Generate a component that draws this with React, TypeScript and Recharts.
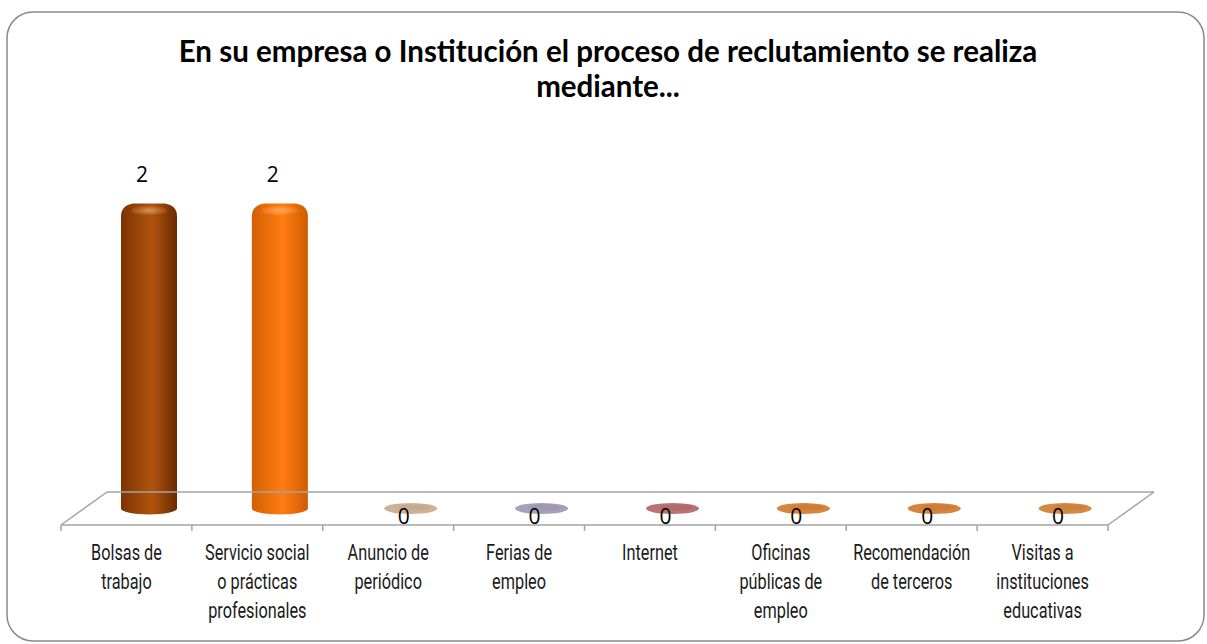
import React from 'react';
import { BarChart, Bar, XAxis, YAxis, LabelList } from 'recharts';

const categories = [
  'Bolsas de\ntrabajo',
  'Servicio social\no prácticas\nprofesionales',
  'Anuncio de\nperiódico',
  'Ferias de\nempleo',
  'Internet',
  'Oficinas\npúblicas de\nempleo',
  'Recomendación\nde terceros',
  'Visitas a\ninstituciones\neducativas',
];
const values = [2, 2, 0, 0, 0, 0, 0, 0];
// [edge, light, far edge] for each cylinder
const barColors = [
  ['#7c3300', '#b0540e', '#692a00'],
  ['#d35f04', '#ff7d12', '#cf5c02'],
  ['#bfa088', '#cfb19a', '#b0907a'],
  ['#9890a8', '#a8a0b8', '#8a8299'],
  ['#a86060', '#b87474', '#985555'],
  ['#c8742e', '#d6853e', '#b86828'],
  ['#c8742e', '#d6853e', '#b86828'],
  ['#c47a34', '#d48a44', '#b46c2a'],
];

const title = ['En su empresa o Institución el proceso de reclutamiento se realiza', 'mediante...'];

const data = categories.map((name, i) => ({ name, value: values[i], idx: i }));

// floor depth offset (Excel 3D look)
const DX = 46;
const DY = -33;
const FLOOR = '#a3a3a3';

const Cylinder = (props: any) => {
  const { x, y, width, height, payload } = props;
  const i = payload.idx;
  const cx = x + width / 2 + DX / 2;
  const rx = width / 2;
  const bottom = y + height + DY / 2;
  const top = y + DY / 2;
  const ry = 6;
  if (height < 1) {
    return (
      <g>
        <ellipse cx={cx} cy={bottom} rx={rx * 0.95} ry={5.5} fill={barColors[i][1]} />
        <ellipse cx={cx + 4} cy={bottom - 1} rx={rx * 0.6} ry={3} fill={barColors[i][0]} opacity={0.5} />
      </g>
    );
  }
  const l = cx - rx;
  const r = cx + rx;
  const d = `M${l},${bottom} L${l},${top + 9} Q${l},${top - 2} ${cx - rx + 12},${top - 4} L${r - 12},${top - 4} Q${r},${top - 2} ${r},${top + 9} L${r},${bottom} A${rx},${ry} 0 0 1 ${l},${bottom} Z`;
  return (
    <g>
      <path d={d} fill={`url(#cyl${i})`} />
      <ellipse cx={cx} cy={top + 3} rx={rx - 10} ry={5} fill={`url(#cap${i})`} opacity={0.5} />
    </g>
  );
};

const ValueLabel = (props: any) => {
  const { x, y, width, height, value } = props;
  const cx = x + width / 2 + DX / 2 - 7;
  const ty = height > 0 ? y + DY / 2 - 33 : y + DY / 2 + 8;
  return (
    <text x={cx} y={ty} dy="0.35em" textAnchor="middle" fontSize={21} fontFamily="'Open Sans', Lato, sans-serif" fill="#000">
      {value}
    </text>
  );
};

const FloorTick = (props: any) => {
  const { x, y, payload, index, visibleTicksCount, width } = props;
  const half = payload && payload.offset ? payload.offset : width / visibleTicksCount / 2;
  const bw = half * 2;
  const left = x - half;
  const n = visibleTicksCount;
  const lines = String(payload.value).split('\n');
  return (
    <g>
      {index === 0 && (
        <g stroke={FLOOR} strokeWidth={1.5} fill="none">
          <line x1={left} y1={y} x2={left + DX} y2={y + DY} />
          <line x1={left + DX} y1={y + DY} x2={left + n * bw + DX} y2={y + DY} />
          <line x1={left + n * bw} y1={y} x2={left + n * bw + DX} y2={y + DY} />
          <line x1={left} y1={y} x2={left + n * bw} y2={y} />
        </g>
      )}
      <line x1={left} y1={y} x2={left} y2={y + 6} stroke={FLOOR} strokeWidth={1.5} />
      {index === n - 1 && <line x1={left + bw} y1={y} x2={left + bw} y2={y + 6} stroke={FLOOR} strokeWidth={1.5} />}
      <g transform={`translate(${x},0) scale(0.74,1)`}>
        <text textAnchor="middle" fontSize={22} fontFamily="Roboto, sans-serif" fill="#1a1a1a">
          {lines.map((t, k) => (
            <tspan key={k} x={0} y={y + 27 + k * 29} dy="0.35em">
              {t}
            </tspan>
          ))}
        </text>
      </g>
    </g>
  );
};

export default function App() {
  return (
    <div style={{ position: 'absolute', left: 0, top: 0, width: 1207, height: 644, background: '#fff' }}>
      <svg width={1207} height={644} style={{ position: 'absolute', left: 0, top: 0 }}>
        <rect x={7} y={12} width={1197} height={629} rx={26} ry={26} fill="#fff" stroke="#8a8a8a" strokeWidth={1.5} />
        {title.map((t, k) => (
          <text
            key={k}
            x={608}
            y={62 + k * 35}
            textAnchor="middle"
            fontSize={29.5}
            fontWeight="bold"
            fontFamily="Lato, 'Open Sans', sans-serif"
            fill="#000"
          >
            {t}
          </text>
        ))}
      </svg>
      <div style={{ position: 'absolute', left: 0, top: 0 }}>
        <BarChart
          width={1207}
          height={644}
          data={data}
          margin={{ top: 224, right: 99, bottom: 29, left: 61 }}
          barSize={56}
        >
          <defs>
            {barColors.map((c, i) => (
              <linearGradient key={`g${i}`} id={`cyl${i}`} x1="0" y1="0" x2="1" y2="0">
                <stop offset="0%" stopColor={c[0]} />
                <stop offset="55%" stopColor={c[1]} />
                <stop offset="100%" stopColor={c[2]} />
              </linearGradient>
            ))}
            {barColors.map((c, i) => (
              <radialGradient key={`c${i}`} id={`cap${i}`}>
                <stop offset="0%" stopColor="#ffd9a8" />
                <stop offset="100%" stopColor={c[1]} />
              </radialGradient>
            ))}
          </defs>
          <XAxis
            dataKey="name"
            interval={0}
            height={90}
            axisLine={false}
            tickLine={false}
            tickSize={0}
            tickMargin={0}
            tick={<FloorTick />}
          />
          <YAxis hide domain={[0, 2]} />
          <Bar dataKey="value" shape={<Cylinder />} isAnimationActive={false}>
            <LabelList dataKey="value" content={<ValueLabel />} />
          </Bar>
        </BarChart>
      </div>
    </div>
  );
}
